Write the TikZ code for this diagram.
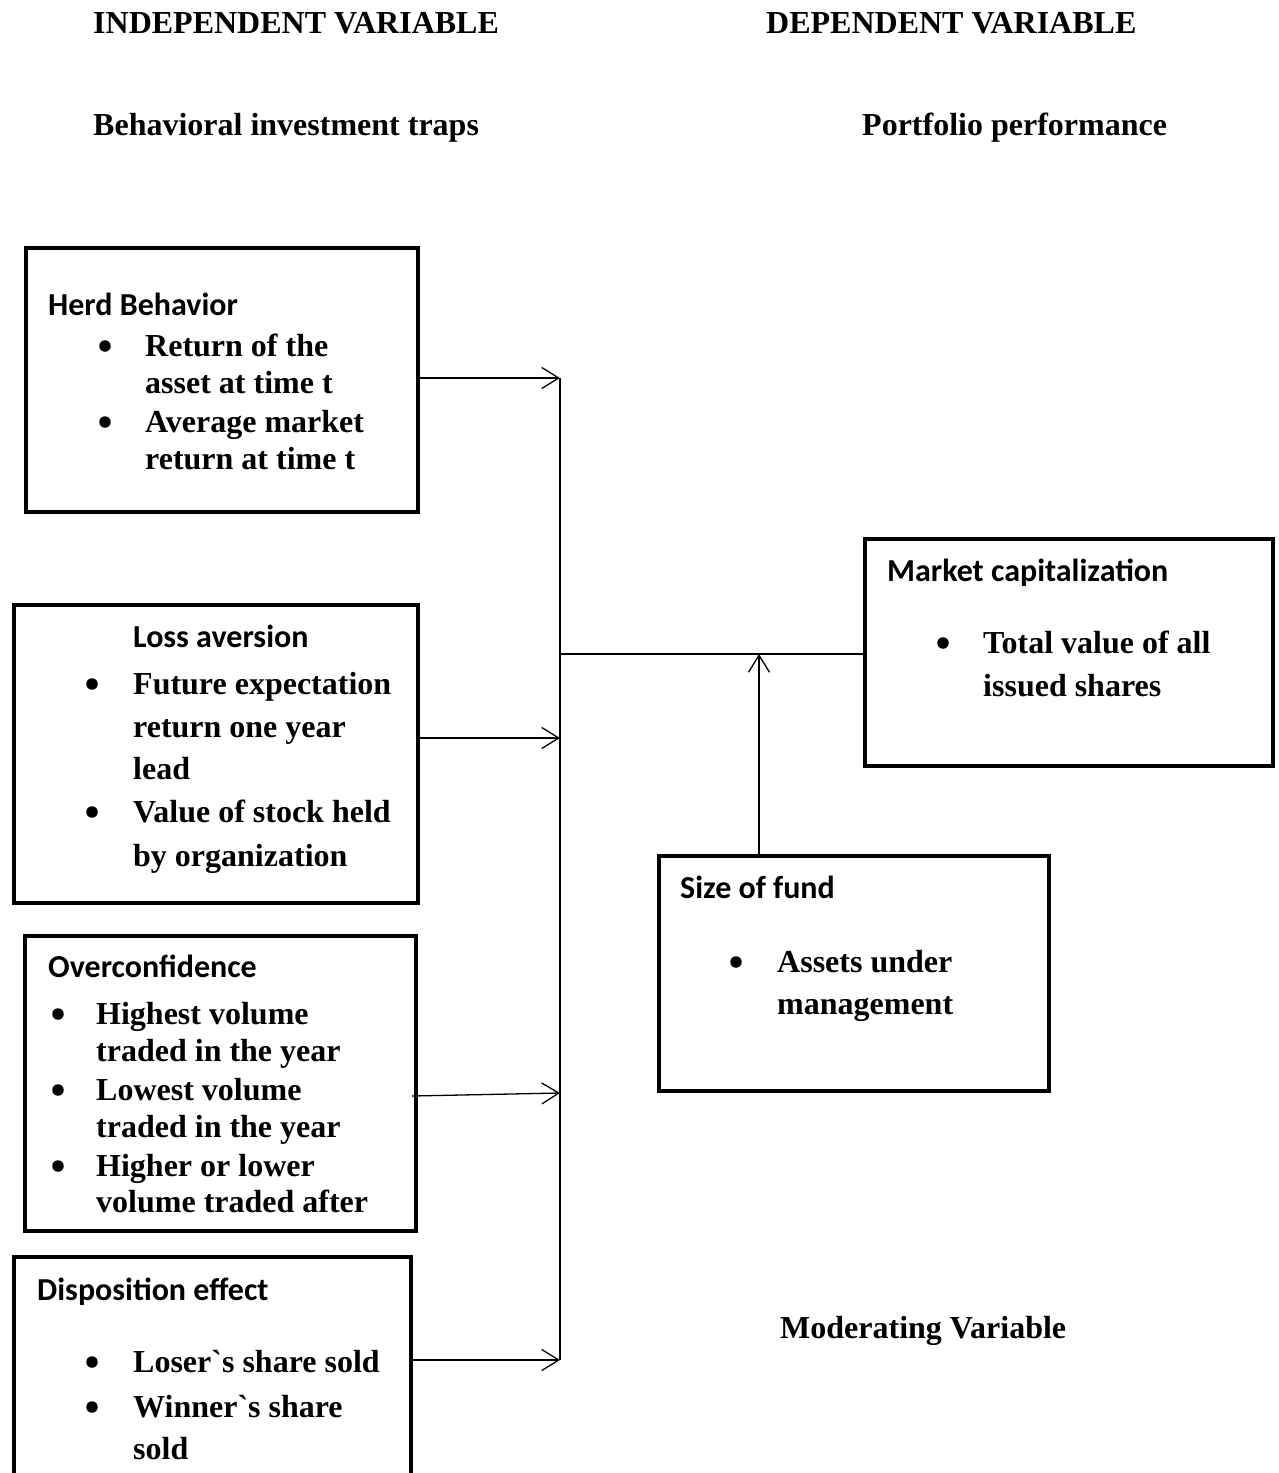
\documentclass[tikz,border=0pt]{standalone}
\usepackage{fontspec}
\setmainfont{Liberation Serif}
\newfontfamily\carlitofam{Carlito}
\usetikzlibrary{arrows.meta}
\newcommand\serifbig{\fontsize{32}{38}\selectfont\bfseries}
\newcommand\calbig{\carlitofam\fontsize{32}{38}\selectfont\bfseries}
\tikzset{
  box/.style={draw, line width=4pt, rectangle, inner sep=0pt, outer sep=0pt},
  conn/.style={line width=1.3pt},
  arr/.style={conn, -{Straight Barb[length=17pt,width=21pt]}},
  tx/.style={anchor=base west, inner sep=0pt, font=\serifbig},
  hd/.style={anchor=base west, inner sep=0pt, font=\calbig},
  bul/.style={circle, fill=black, inner sep=0pt, minimum size=11.5pt, yshift=10pt},
}
\begin{document}
\begin{tikzpicture}[x=1pt,y=-1pt]
\clip (0,0) rectangle (1279,1473);
\fill[white] (0,0) rectangle (1279,1473);

% headings
\node[tx] (t1) at (93,33) {INDEPENDENT VARIABLE};
\node[tx] (t2) at (766,33) {DEPENDENT VARIABLE};
\node[tx] (t3) at (93,135) {Behavioral investment traps};
\node[tx] (t4) at (862,135) {Portfolio performance};
\node[tx] (t5) at (780,1338) {Moderating Variable};

% boxes
\node[box, minimum width=392pt, minimum height=264pt] (herd) at (222,380) {};
\node[box, minimum width=404pt, minimum height=298pt] (loss) at (216,754) {};
\node[box, minimum width=391pt, minimum height=295pt] (over) at (220.5,1083.5) {};
\node[box, minimum width=397pt, minimum height=253pt] (disp) at (212.5,1383.5) {};
\node[box, minimum width=408pt, minimum height=227pt] (mcap) at (1069,652.5) {};
\node[box, minimum width=390pt, minimum height=235pt] (size) at (854,973.5) {};

% herd behavior
\node[hd] (h0) at (48,315) {Herd Behavior};
\node[bul] (hb1) at (105,356) {};
\node[tx] (h1) at (145,356) {Return of the};
\node[tx] (h2) at (145,393) {asset at time t};
\node[bul] (hb2) at (105,432) {};
\node[tx] (h3) at (145,432) {Average market};
\node[tx] (h4) at (145,469) {return at time t};

% loss aversion
\node[hd] (l0) at (133,647) {Loss aversion};
\node[bul] (lb1) at (92,694) {};
\node[tx] (l1) at (133,694) {Future expectation};
\node[tx] (l2) at (133,737) {return one year};
\node[tx] (l3) at (133,779) {lead};
\node[bul] (lb2) at (92,822) {};
\node[tx] (l4) at (133,822) {Value of stock held};
\node[tx] (l5) at (133,866) {by organization};

% overconfidence
\node[hd] (o0) at (48,977) {Overconfidence};
\node[bul] (ob1) at (58,1024) {};
\node[tx] (o1) at (96,1024) {Highest volume};
\node[tx] (o2) at (96,1061) {traded in the year};
\node[bul] (ob2) at (58,1100) {};
\node[tx] (o3) at (96,1100) {Lowest volume};
\node[tx] (o4) at (96,1137) {traded in the year};
\node[bul] (ob3) at (58,1176) {};
\node[tx] (o5) at (96,1176) {Higher or lower};
\node[tx] (o6) at (96,1212) {volume traded after};

% disposition effect
\node[hd] (d0) at (37,1300) {Disposition effect};
\node[bul] (db1) at (92,1372) {};
\node[tx] (d1) at (133,1372) {Loser\textasciigrave s share sold};
\node[bul] (db2) at (92,1417) {};
\node[tx] (d2) at (133,1417) {Winner\textasciigrave s share};
\node[tx] (d3) at (133,1459) {sold};

% market capitalization
\node[hd] (m0) at (887,581) {Market capitalization};
\node[bul] (mb1) at (943,653) {};
\node[tx] (m1) at (983,653) {Total value of all};
\node[tx] (m2) at (983,696) {issued shares};

% size of fund
\node[hd] (s0) at (680,898) {Size of fund};
\node[bul] (sb1) at (736,972) {};
\node[tx] (s1) at (777,972) {Assets under};
\node[tx] (s2) at (777,1014) {management};

% connectors
\coordinate (b1) at (560,378);
\coordinate (b2) at (560,738);
\coordinate (b3) at (560,1093);
\coordinate (b4) at (560,1360);
\coordinate (bj) at (560,654);
\coordinate (aj) at (759,654);

\draw[conn] (b1) -- (b4);
\draw[arr] (herd.east |- b1) -- (b1);
\draw[arr] (loss.east |- b2) -- (b2);
\draw[arr] ([xshift=-4pt,yshift=-3pt]over.east |- b3) -- (b3);
\draw[arr] (disp.east |- b4) -- (b4);
\draw[conn] (bj) -- (mcap.west |- bj);
\draw[arr] (size.north -| aj) -- (aj);
\end{tikzpicture}
\end{document}
